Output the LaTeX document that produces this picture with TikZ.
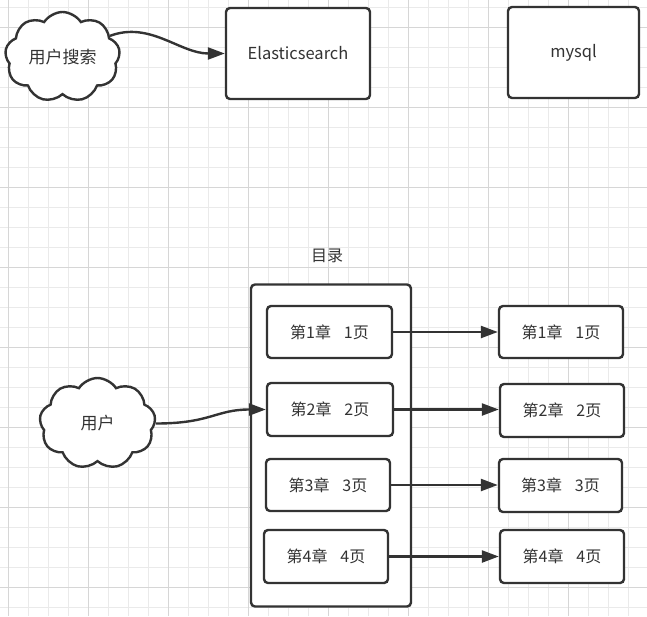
\documentclass[tikz,border=0pt]{standalone}
\usepackage{fontspec}
\setmainfont{Noto Sans CJK SC}
\usetikzlibrary{arrows.meta,shapes.symbols}
\definecolor{tinta}{RGB}{51,51,51}
\definecolor{rejilla}{RGB}{234,234,234}
\definecolor{rejillafuerte}{RGB}{214,214,214}
\tikzset{
  caja/.style={draw=tinta,line width=2.4pt,rounded corners=4pt,fill=white,text=tinta,inner sep=0pt,font=\fontsize{16}{19}\selectfont},
  nube/.style={cloud,cloud puffs=9,cloud puff arc=115,aspect=1.3,draw=tinta,line width=2.4pt,fill=white,text=tinta,inner sep=0pt,font=\fontsize{17}{20}\selectfont},
  flecha/.style={draw=tinta,line width=2.4pt,-{Triangle[length=17pt,width=12pt]}}
}
\newcommand{\capitulo}[1]{第#1章\hspace{0.8em}#1页}

\begin{document}
\begin{tikzpicture}[x=1pt,y=-1pt]
\useasboundingbox[fill=white] (0,0) rectangle (647,616);
\foreach \gx in {8,28,...,648}
  \draw[rejilla,line width=1pt] (\gx,0) -- (\gx,616);
\foreach \gy in {7,27,...,616}
  \draw[rejilla,line width=1pt] (0,\gy) -- (647,\gy);
\foreach \gx in {8,88,...,648}
  \draw[rejillafuerte,line width=1pt] (\gx,0) -- (\gx,616);
\foreach \gy in {27,107,...,616}
  \draw[rejillafuerte,line width=1pt] (0,\gy) -- (647,\gy);

\node[nube,minimum width=115pt,minimum height=90pt] (busca) at (62.5,57) {用户搜索};
\node[caja,minimum width=144pt,minimum height=91pt,font=\fontsize{16.5}{19}\selectfont] (es) at (298,53.5) {Elasticsearch};
\node[caja,minimum width=131pt,minimum height=91pt,font=\fontsize{16.5}{19}\selectfont] (mysql) at (573.5,52.5) {mysql};

\node[text=tinta,font=\fontsize{16}{19}\selectfont] (titulo) at (327,256) {目录};
\node[caja,minimum width=160pt,minimum height=322pt] (indice) at (331,445.5) {};

\node[caja,minimum width=125pt,minimum height=52pt] (cap1) at (329.5,332) {\capitulo{1}};
\node[caja,minimum width=126pt,minimum height=53pt] (cap2) at (330,409.5) {\capitulo{2}};
\node[caja,minimum width=124pt,minimum height=52pt] (cap3) at (328,485) {\capitulo{3}};
\node[caja,minimum width=124pt,minimum height=53pt] (cap4) at (326,556.5) {\capitulo{4}};

\node[caja,minimum width=124pt,minimum height=52pt] (pag1) at (561,332) {\capitulo{1}};
\node[caja,minimum width=124pt,minimum height=53pt] (pag2) at (562,410.5) {\capitulo{2}};
\node[caja,minimum width=123pt,minimum height=53pt] (pag3) at (560.5,485.5) {\capitulo{3}};
\node[caja,minimum width=124pt,minimum height=53pt] (pag4) at (562,556.5) {\capitulo{4}};

\node[nube,minimum width=116pt,minimum height=91pt] (usuario) at (97.5,423.5) {用户};

\draw[flecha] (busca.24) .. controls +(40,-15) and +(-45,0) .. (es.west);
\draw[flecha] (usuario.east) .. controls +(55,0) and +(-50,0) .. (cap2.west);
\draw[flecha] (cap1.east) -- (cap1.east -| pag1.west);
\draw[flecha] (cap2.east) -- (cap2.east -| pag2.west);
\draw[flecha] (cap3.east) -- (cap3.east -| pag3.west);
\draw[flecha] (cap4.east) -- (cap4.east -| pag4.west);
\end{tikzpicture}
\end{document}
